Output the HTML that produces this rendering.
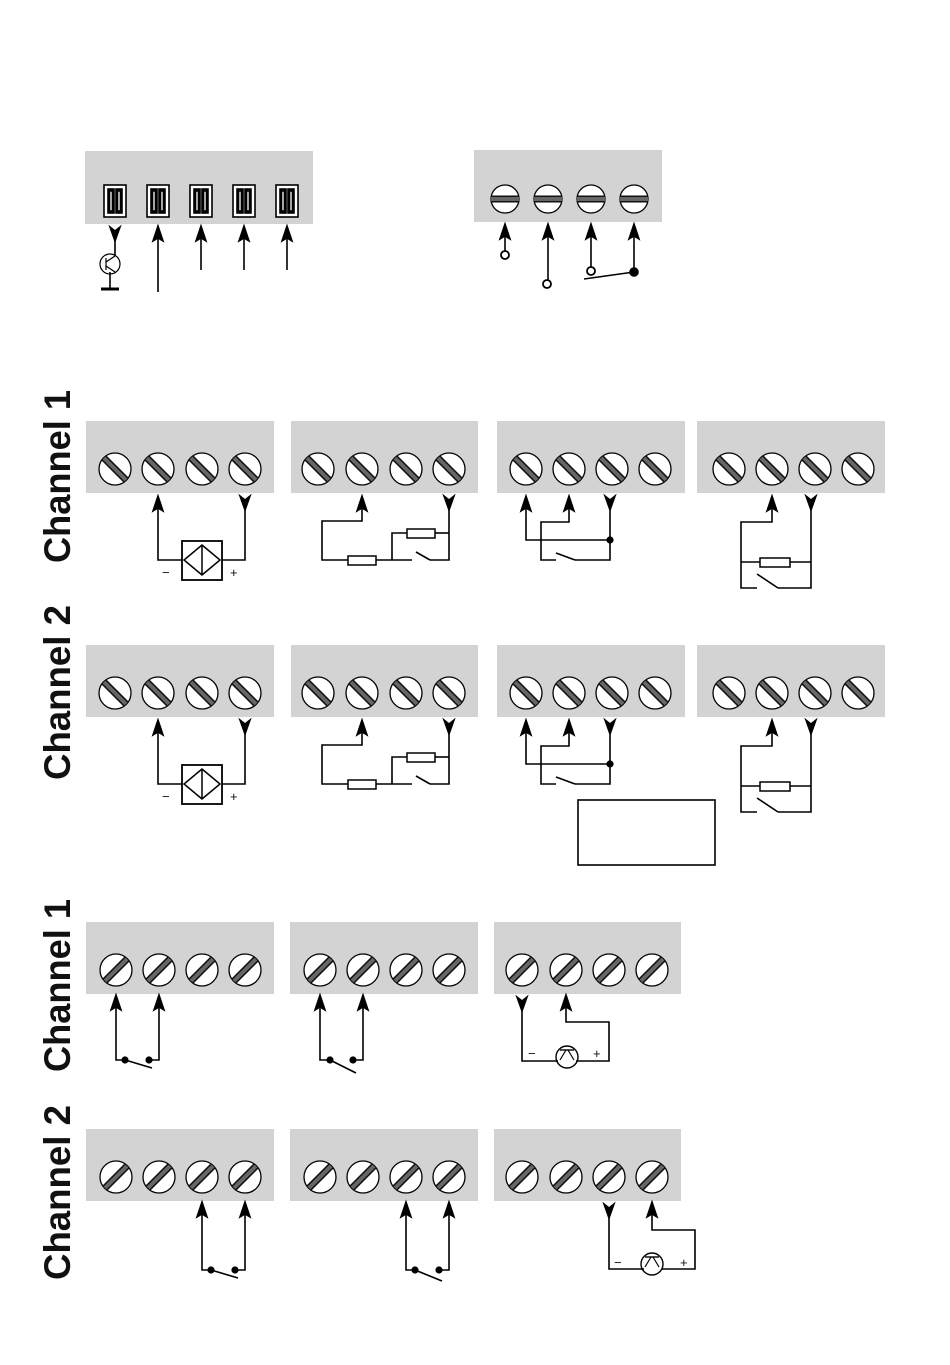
<!DOCTYPE html>
<html><head><meta charset="utf-8"><style>
html,body{margin:0;padding:0;background:#fff;}
svg{display:block;}
text{font-family:"Liberation Sans",sans-serif;}
</style></head><body>
<svg width="950" height="1365" viewBox="0 0 950 1365" xmlns="http://www.w3.org/2000/svg">
<defs>
<g id="sb"><circle r="16" fill="#fff" stroke="#000" stroke-width="1.3"/><line x1="-11" y1="-11" x2="11" y2="11" stroke="#111" stroke-width="7"/><line x1="-11" y1="-11" x2="11" y2="11" stroke="#666" stroke-width="4"/></g>
<g id="sf"><circle r="16" fill="#fff" stroke="#000" stroke-width="1.3"/><line x1="-11" y1="11" x2="11" y2="-11" stroke="#111" stroke-width="7"/><line x1="-11" y1="11" x2="11" y2="-11" stroke="#666" stroke-width="4"/></g>
<g id="sh"><circle r="14" fill="#fff" stroke="#000" stroke-width="1.3"/><line x1="-14" y1="0" x2="14" y2="0" stroke="#111" stroke-width="7"/><line x1="-14" y1="0" x2="14" y2="0" stroke="#666" stroke-width="4"/></g>
<path id="au" d="M0,0 L-5,15 L0,12 L5,15 Z" fill="#000"/>
<path id="ad" d="M-5,0 L0,4 L5,0 L0,14 Z" fill="#000"/>
<g id="cn"><rect x="-11" y="-16" width="22" height="32" fill="#fff"/><rect x="-7" y="-12" width="6" height="24" fill="#111"/><rect x="1" y="-12" width="6" height="24" fill="#111"/><rect x="-5.5" y="-10" width="3" height="20" fill="#eee"/><rect x="2.5" y="-10" width="3" height="20" fill="#eee"/></g>
</defs>

<g fill="none" stroke="#000" stroke-width="1.6">
<rect x="85" y="151" width="228" height="73" fill="#d3d3d3" stroke="none"/>
<use href="#cn" x="115" y="201"/><use href="#cn" x="158" y="201"/><use href="#cn" x="201" y="201"/><use href="#cn" x="244" y="201"/><use href="#cn" x="287" y="201"/>
<use href="#ad" x="115" y="227"/>
<line x1="115" y1="236" x2="115" y2="255"/>
<circle cx="110" cy="264" r="10" stroke-width="1.2"/>
<line x1="106" y1="258" x2="106" y2="270" stroke-width="1.2"/>
<line x1="106" y1="262" x2="115" y2="256" stroke-width="1.2"/>
<line x1="106" y1="266" x2="115" y2="272" stroke-width="1.2"/>
<line x1="110" y1="272" x2="110" y2="288"/>
<line x1="101" y1="289" x2="119" y2="289" stroke-width="3"/>
<line x1="158" y1="238" x2="158" y2="292"/><use href="#au" x="158" y="226"/>
<line x1="201" y1="238" x2="201" y2="270"/><use href="#au" x="201" y="226"/>
<line x1="244" y1="238" x2="244" y2="270"/><use href="#au" x="244" y="226"/>
<line x1="287" y1="238" x2="287" y2="270"/><use href="#au" x="287" y="226"/>

<rect x="474" y="150" width="188" height="72" fill="#d3d3d3" stroke="none"/>
<use href="#sh" x="505" y="199"/><use href="#sh" x="548" y="199"/><use href="#sh" x="591" y="199"/><use href="#sh" x="634" y="199"/>
<line x1="505" y1="236" x2="505" y2="251"/><use href="#au" x="505" y="224"/><circle cx="505" cy="255" r="4" fill="#fff" stroke-width="1.8"/>
<line x1="548" y1="236" x2="548" y2="280"/><use href="#au" x="548" y="224"/><circle cx="547" cy="284" r="4" fill="#fff" stroke-width="1.8"/>
<line x1="591" y1="236" x2="591" y2="267"/><use href="#au" x="591" y="224"/><circle cx="591" cy="271" r="4" fill="#fff" stroke-width="1.8"/>
<line x1="634" y1="236" x2="634" y2="268"/><use href="#au" x="634" y="224"/><circle cx="634" cy="272" r="4" fill="#000"/>
<line x1="584" y1="279" x2="634" y2="272"/>
</g>

<g font-weight="bold" font-size="37" fill="#111">
<text transform="translate(70,563) rotate(-90)" textLength="173" lengthAdjust="spacingAndGlyphs">Channel 1</text>
<text transform="translate(70,780) rotate(-90)" textLength="175" lengthAdjust="spacingAndGlyphs">Channel 2</text>
<text transform="translate(70,1072) rotate(-90)" textLength="173" lengthAdjust="spacingAndGlyphs">Channel 1</text>
<text transform="translate(70,1280) rotate(-90)" textLength="175" lengthAdjust="spacingAndGlyphs">Channel 2</text>
</g>

<g id="row1" fill="none" stroke="#000" stroke-width="1.6">
<rect x="86" y="421" width="188" height="72" fill="#d3d3d3" stroke="none"/>
<rect x="291" y="421" width="187" height="72" fill="#d3d3d3" stroke="none"/>
<rect x="497" y="421" width="188" height="72" fill="#d3d3d3" stroke="none"/>
<rect x="697" y="421" width="188" height="72" fill="#d3d3d3" stroke="none"/>
<use href="#sb" x="115" y="469"/><use href="#sb" x="158" y="469"/><use href="#sb" x="202" y="469"/><use href="#sb" x="245" y="469"/>
<use href="#sb" x="318" y="469"/><use href="#sb" x="362" y="469"/><use href="#sb" x="406" y="469"/><use href="#sb" x="449" y="469"/>
<use href="#sb" x="526" y="469"/><use href="#sb" x="569" y="469"/><use href="#sb" x="612" y="469"/><use href="#sb" x="655" y="469"/>
<use href="#sb" x="729" y="469"/><use href="#sb" x="772" y="469"/><use href="#sb" x="815" y="469"/><use href="#sb" x="858" y="469"/>
<use href="#au" x="158" y="496"/>
<polyline points="158,508 158,560 182,560"/>
<rect x="182" y="541" width="40" height="39" stroke-width="1.8"/>
<polygon points="202,545 220,560 202,575 184,560" stroke-width="1.5"/>
<line x1="202" y1="545" x2="202" y2="575" stroke-width="1.5"/>
<polyline points="222,560 245,560 245,505"/>
<use href="#ad" x="245" y="496"/>
<use href="#au" x="362" y="496"/>
<polyline points="362,508 362,521 322,521 322,560 348,560"/>
<rect x="348" y="556" width="28" height="9" stroke-width="1.5"/>
<polyline points="376,560 412,560"/>
<polyline points="392,560 392,533 407,533"/>
<rect x="407" y="529" width="28" height="9" stroke-width="1.5"/>
<polyline points="435,533 449,533"/>
<line x1="416" y1="552" x2="430" y2="560"/>
<polyline points="430,560 449,560 449,505"/>
<use href="#ad" x="449" y="496"/>
<use href="#au" x="526" y="496"/>
<polyline points="526,508 526,540 610,540"/>
<use href="#au" x="569" y="496"/>
<polyline points="569,508 569,522 541,522 541,560 556,560"/>
<line x1="556" y1="553" x2="575" y2="560"/>
<polyline points="575,560 610,560 610,505"/>
<circle cx="610" cy="540" r="2.8" fill="#000"/>
<use href="#ad" x="610" y="496"/>
<use href="#au" x="772" y="496"/>
<polyline points="772,508 772,522 741,522 741,588 757,588"/>
<line x1="741" y1="562" x2="760" y2="562"/>
<rect x="760" y="558" width="30" height="9" stroke-width="1.5"/>
<polyline points="790,562 811,562"/>
<line x1="757" y1="574" x2="778" y2="588"/>
<polyline points="778,588 811,588 811,505"/>
<use href="#ad" x="811" y="496"/>
</g>
<use href="#row1" y="224"/>
<g fill="#111" font-size="13">
<text x="162" y="577">−</text><text x="230" y="577">+</text>
<text x="162" y="801">−</text><text x="230" y="801">+</text>
</g>
<rect x="578" y="800" width="137" height="65" fill="none" stroke="#000" stroke-width="1.6"/>

<g fill="none" stroke="#000" stroke-width="1.6">
<rect x="86" y="922" width="188" height="72" fill="#d3d3d3" stroke="none"/>
<rect x="290" y="922" width="188" height="72" fill="#d3d3d3" stroke="none"/>
<rect x="494" y="922" width="187" height="72" fill="#d3d3d3" stroke="none"/>
<use href="#sf" x="116" y="970"/><use href="#sf" x="159" y="970"/><use href="#sf" x="202" y="970"/><use href="#sf" x="245" y="970"/>
<use href="#sf" x="320" y="970"/><use href="#sf" x="363" y="970"/><use href="#sf" x="406" y="970"/><use href="#sf" x="449" y="970"/>
<use href="#sf" x="522" y="970"/><use href="#sf" x="566" y="970"/><use href="#sf" x="609" y="970"/><use href="#sf" x="652" y="970"/>
<use href="#au" x="116" y="995"/><polyline points="116,1007 116,1060 125,1060"/>
<use href="#au" x="159" y="995"/><polyline points="159,1007 159,1060 149,1060"/>
<circle cx="125" cy="1060" r="2.8" fill="#000"/><circle cx="149" cy="1060" r="2.8" fill="#000"/>
<line x1="125" y1="1060" x2="152" y2="1068"/>
<use href="#au" x="320" y="995"/><polyline points="320,1007 320,1060 330,1060"/>
<use href="#au" x="363" y="995"/><polyline points="363,1007 363,1060 353,1060"/>
<circle cx="330" cy="1060" r="2.8" fill="#000"/><circle cx="353" cy="1060" r="2.8" fill="#000"/>
<line x1="330" y1="1060" x2="356" y2="1073"/>
<use href="#ad" x="522" y="997"/><polyline points="522,1006 522,1061 558,1061"/>
<circle cx="567" cy="1057" r="11" stroke-width="1.4"/>
<line x1="560" y1="1050" x2="574" y2="1050" stroke-width="1.4"/><line x1="566" y1="1050" x2="560" y2="1060" stroke-width="1.2"/><line x1="568" y1="1050" x2="574" y2="1060" stroke-width="1.2"/>
<polyline points="576,1061 609,1061 609,1022 566,1022 566,1007"/>
<use href="#au" x="566" y="995"/>

<rect x="86" y="1129" width="188" height="72" fill="#d3d3d3" stroke="none"/>
<rect x="290" y="1129" width="188" height="72" fill="#d3d3d3" stroke="none"/>
<rect x="494" y="1129" width="187" height="72" fill="#d3d3d3" stroke="none"/>
<use href="#sf" x="116" y="1177"/><use href="#sf" x="159" y="1177"/><use href="#sf" x="202" y="1177"/><use href="#sf" x="245" y="1177"/>
<use href="#sf" x="320" y="1177"/><use href="#sf" x="363" y="1177"/><use href="#sf" x="406" y="1177"/><use href="#sf" x="449" y="1177"/>
<use href="#sf" x="522" y="1177"/><use href="#sf" x="566" y="1177"/><use href="#sf" x="609" y="1177"/><use href="#sf" x="652" y="1177"/>
<use href="#au" x="202" y="1202"/><polyline points="202,1214 202,1270 211,1270"/>
<use href="#au" x="245" y="1202"/><polyline points="245,1214 245,1270 235,1270"/>
<circle cx="211" cy="1270" r="2.8" fill="#000"/><circle cx="235" cy="1270" r="2.8" fill="#000"/>
<line x1="211" y1="1270" x2="238" y2="1278"/>
<use href="#au" x="406" y="1202"/><polyline points="406,1214 406,1270 415,1270"/>
<use href="#au" x="449" y="1202"/><polyline points="449,1214 449,1270 439,1270"/>
<circle cx="415" cy="1270" r="2.8" fill="#000"/><circle cx="439" cy="1270" r="2.8" fill="#000"/>
<line x1="415" y1="1270" x2="442" y2="1281"/>
<use href="#ad" x="609" y="1204"/><polyline points="609,1213 609,1269 644,1269"/>
<circle cx="652" cy="1264" r="11" stroke-width="1.4"/>
<line x1="645" y1="1257" x2="659" y2="1257" stroke-width="1.4"/><line x1="651" y1="1257" x2="645" y2="1267" stroke-width="1.2"/><line x1="653" y1="1257" x2="659" y2="1267" stroke-width="1.2"/>
<polyline points="662,1269 695,1269 695,1230 652,1230 652,1214"/>
<use href="#au" x="652" y="1202"/>
</g>
<g fill="#111" font-size="13">
<text x="528" y="1058">−</text><text x="593" y="1058">+</text>
<text x="614" y="1267">−</text><text x="680" y="1267">+</text>
</g>
</svg>
</body></html>
